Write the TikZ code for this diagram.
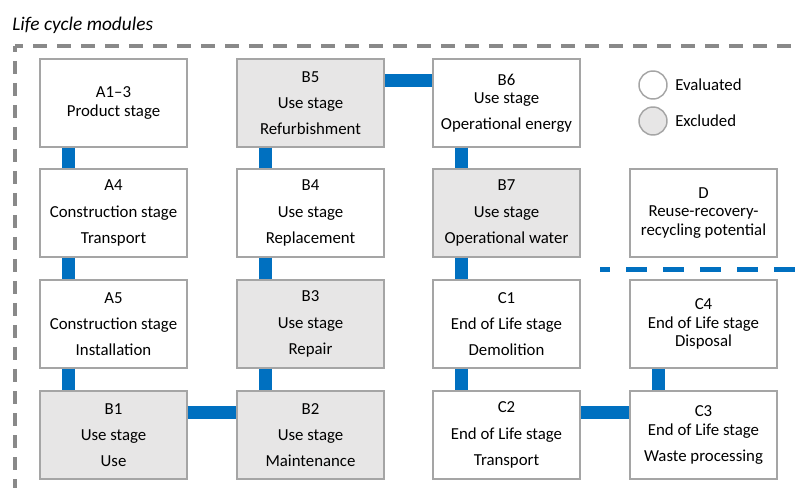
\documentclass[tikz,border=0pt]{standalone}
\usepackage{fontspec}
\setmainfont{Carlito}
\usepackage{tikz}

\definecolor{linkblue}{RGB}{0,112,192}
\definecolor{framegray}{RGB}{137,137,137}
\definecolor{boxgray}{RGB}{165,165,165}
\definecolor{exclgray}{RGB}{231,230,230}

\begin{document}
\begin{tikzpicture}[x=0.75pt, y=-0.75pt,
		stagebox/.style={draw=boxgray, line width=1.1pt, fill=white, minimum width=110.25pt, minimum height=66pt, inner sep=0pt, align=center, font=\fontsize{12.6}{13.6}\selectfont},
		excluded/.style={stagebox, fill=exclgray},
		link/.style={linkblue, line width=9.75pt},
		legendmark/.style={circle, draw=boxgray, line width=1.1pt, minimum size=21pt, inner sep=0pt}]
		
		\useasboundingbox (0,0) rectangle (800,488);
		
		% Title and dashed frame
		\node[anchor=base west, inner sep=0pt, font=\fontsize{14.5}{16}\selectfont\itshape] (title) at (12,31) {Life cycle modules};
		\draw[framegray, line width=3pt, dash pattern=on 10.5pt off 7.5pt, dash phase=4.5pt] (15,46) -- (800,46);
		\draw[framegray, line width=2.6pt, dash pattern=on 9.75pt off 6.75pt, dash phase=5.25pt] (15,46) -- (15,488);
		
		% Row 1
		\node[stagebox] (a13) at (113.5,103) {A1–3\\Product stage};
		\node[excluded] (b5) at (310.5,103) {B5\\[6pt]Use stage\\[6pt]Refurbishment};
		\node[stagebox] (b6) at (506.5,103) {B6\\Use stage\\[6pt]Operational energy};
		
		% Row 2
		\node[stagebox] (a4) at (113.5,213) {A4\\[6pt]Construction stage\\[6pt]Transport};
		\node[stagebox] (b4) at (310.5,213) {B4\\[6pt]Use stage\\[6pt]Replacement};
		\node[excluded] (b7) at (506.5,213) {B7\\[6pt]Use stage\\[6pt]Operational water};
		\node[stagebox] (d) at (703.5,213) {D\\Reuse-recovery-\\recycling potential};
		
		% Row 3
		\node[stagebox] (a5) at (113.5,324) {A5\\[6pt]Construction stage\\[6pt]Installation};
		\node[excluded] (b3) at (310.5,324) {B3\\[6pt]Use stage\\[6pt]Repair};
		\node[stagebox] (c1) at (506.5,324) {C1\\[6pt]End of Life stage\\[6pt]Demolition};
		\node[stagebox] (c4) at (703.5,324) {C4\\End of Life stage\\Disposal};
		
		% Row 4
		\node[excluded] (b1) at (113.5,435) {B1\\[6pt]Use stage\\[6pt]Use};
		\node[excluded] (b2) at (310.5,435) {B2\\[6pt]Use stage\\[6pt]Maintenance};
		\node[stagebox] (c2) at (506.5,435) {C2\\[6pt]End of Life stage\\[6pt]Transport};
		\node[stagebox] (c3) at (703.5,435) {C3\\End of Life stage\\[6pt]Waste processing};
		
		% Legend
		\node[legendmark, fill=white] (evalmark) at (653,85) {};
		\node[anchor=west, inner sep=0pt, font=\fontsize{12.6}{13.6}\selectfont] (evallabel) at (675,85) {Evaluated};
		\node[legendmark, fill=exclgray] (exclmark) at (653,121) {};
		\node[anchor=west, inner sep=0pt, font=\fontsize{12.6}{13.6}\selectfont] (excllabel) at (675,121) {Excluded};
		
		% Vertical links
		\draw[link] ([xshift=22pt]a13.south west) -- ([xshift=22pt]a4.north west);
		\draw[link] ([xshift=22pt]a4.south west) -- ([xshift=22pt]a5.north west);
		\draw[link] ([xshift=22pt]a5.south west) -- ([xshift=22pt]b1.north west);
		\draw[link] ([xshift=22pt]b5.south west) -- ([xshift=22pt]b4.north west);
		\draw[link] ([xshift=22pt]b4.south west) -- ([xshift=22pt]b3.north west);
		\draw[link] ([xshift=22pt]b3.south west) -- ([xshift=22pt]b2.north west);
		\draw[link] ([xshift=22pt]b6.south west) -- ([xshift=22pt]b7.north west);
		\draw[link] ([xshift=22pt]b7.south west) -- ([xshift=22pt]c1.north west);
		\draw[link] ([xshift=22pt]c1.south west) -- ([xshift=22pt]c2.north west);
		\draw[link] ([xshift=22pt]c3.north west) -- ([xshift=22pt]c4.south west);
		
		% Horizontal links
		\draw[link] ([yshift=-16.5pt]b5.north east) -- ([yshift=-16.5pt]b6.north west);
		\draw[link] ([yshift=-16.5pt]b1.north east) -- ([yshift=-16.5pt]b2.north west);
		\draw[link] ([yshift=-16.5pt]c2.north east) -- ([yshift=-16.5pt]c3.north west);
		
		% Separator between C and D
		\draw[linkblue, line width=3.75pt, dash pattern=on 15.75pt off 12pt, dash phase=8.25pt] (600,270) -- (800,270);
		
	\end{tikzpicture}
\end{document}
